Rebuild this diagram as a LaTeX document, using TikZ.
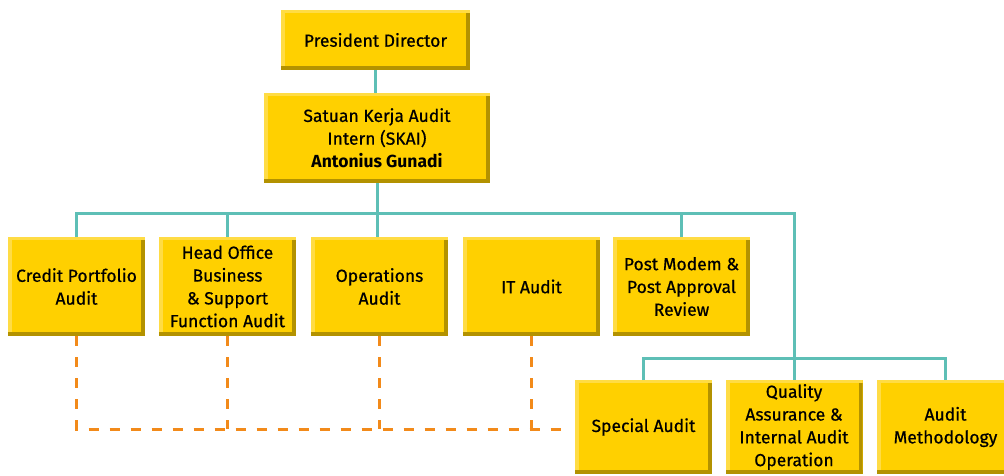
\documentclass[tikz,border=0pt]{standalone}
\usepackage{fontspec}
\setmainfont{Fira Sans}[UprightFeatures={FakeBold=0.6}]
\usetikzlibrary{calc}
\definecolor{boxfill}{HTML}{FFD000}
\definecolor{boxdark}{HTML}{B39200}
\definecolor{boxlight}{HTML}{FFDC45}
\definecolor{linkteal}{HTML}{5EBFB6}
\definecolor{dashorange}{HTML}{F28A1A}

\begin{document}
\begin{tikzpicture}[x=1pt,y=1pt,
  unit/.style={fill=boxfill, inner sep=0, outer sep=0pt, align=center,
    minimum width=137pt, minimum height=99pt,
    font=\fontsize{17.5}{22.8}\selectfont,
    path picture={
      \fill[boxlight] (path picture bounding box.north west) rectangle ($(path picture bounding box.south west)+(4,0)$);
      \fill[boxlight] (path picture bounding box.north west) rectangle ($(path picture bounding box.north east)+(0,-3)$);
      \fill[boxdark] ($(path picture bounding box.north east)+(-4,-3)$) rectangle (path picture bounding box.south east);
      \fill[boxdark] (path picture bounding box.south west) rectangle ($(path picture bounding box.south east)+(0,4)$);}},
  solidlink/.style={draw=linkteal, line width=3pt},
  dashlink/.style={draw=dashorange, line width=3pt, dash pattern=on 10pt off 11pt}]
\useasboundingbox (0,0) rectangle (1004,475);
\clip (0,0) rectangle (1004,475);

\node[unit, minimum width=189pt, minimum height=60pt] (pres) at (375.5,435) {President Director};
\node[unit, minimum width=226pt, minimum height=90pt] (skai) at (377,337)
  {Satuan Kerja Audit\\Intern (SKAI)\\\textbf{Antonius Gunadi}};
\node[unit] (credit) at (76.5,188.5) {Credit Portfolio\\Audit};
\node[unit] (hoff) at (227.5,188.5) {Head Office\\Business\\\& Support\\Function Audit};
\node[unit] (ops) at (379.5,188.5) {Operations\\Audit};
\node[unit] (itaud) at (531.5,188.5) {IT Audit};
\node[unit] (postrev) at (681.5,188.5) {Post Modem \&\\Post Approval\\Review};
\node[unit, minimum height=94pt] (special) at (643.5,48) {Special Audit};
\node[unit, minimum height=94pt] (qaiao) at (794,48) {Quality\\Assurance \&\\Internal Audit\\Operation};
\node[unit, minimum height=94pt] (method) at (945.5,48) {Audit\\Methodology};

\coordinate (busA) at (0,262);
\coordinate (busB) at (0,117);
\coordinate (busC) at (0,46);

\draw[solidlink] (pres) -- (pres |- skai.north);
\draw[solidlink] (skai.south) -- (skai.south |- ops.north);
\draw[solidlink] (credit.north) |- (busA -| qaiao) -- (qaiao.north);
\draw[solidlink] (hoff.north) -- (hoff.north |- busA);
\draw[solidlink] (postrev.north) -- (postrev.north |- busA);
\draw[solidlink] (special.north) |- (busB -| method) -- (method.north);

\draw[dashlink, shorten >=9pt] (credit.south) |- (busC -| special.west);
\foreach \n in {hoff,ops,itaud}
  \draw[dashlink] (\n.south) -- (\n.south |- busC);
\end{tikzpicture}
\end{document}
